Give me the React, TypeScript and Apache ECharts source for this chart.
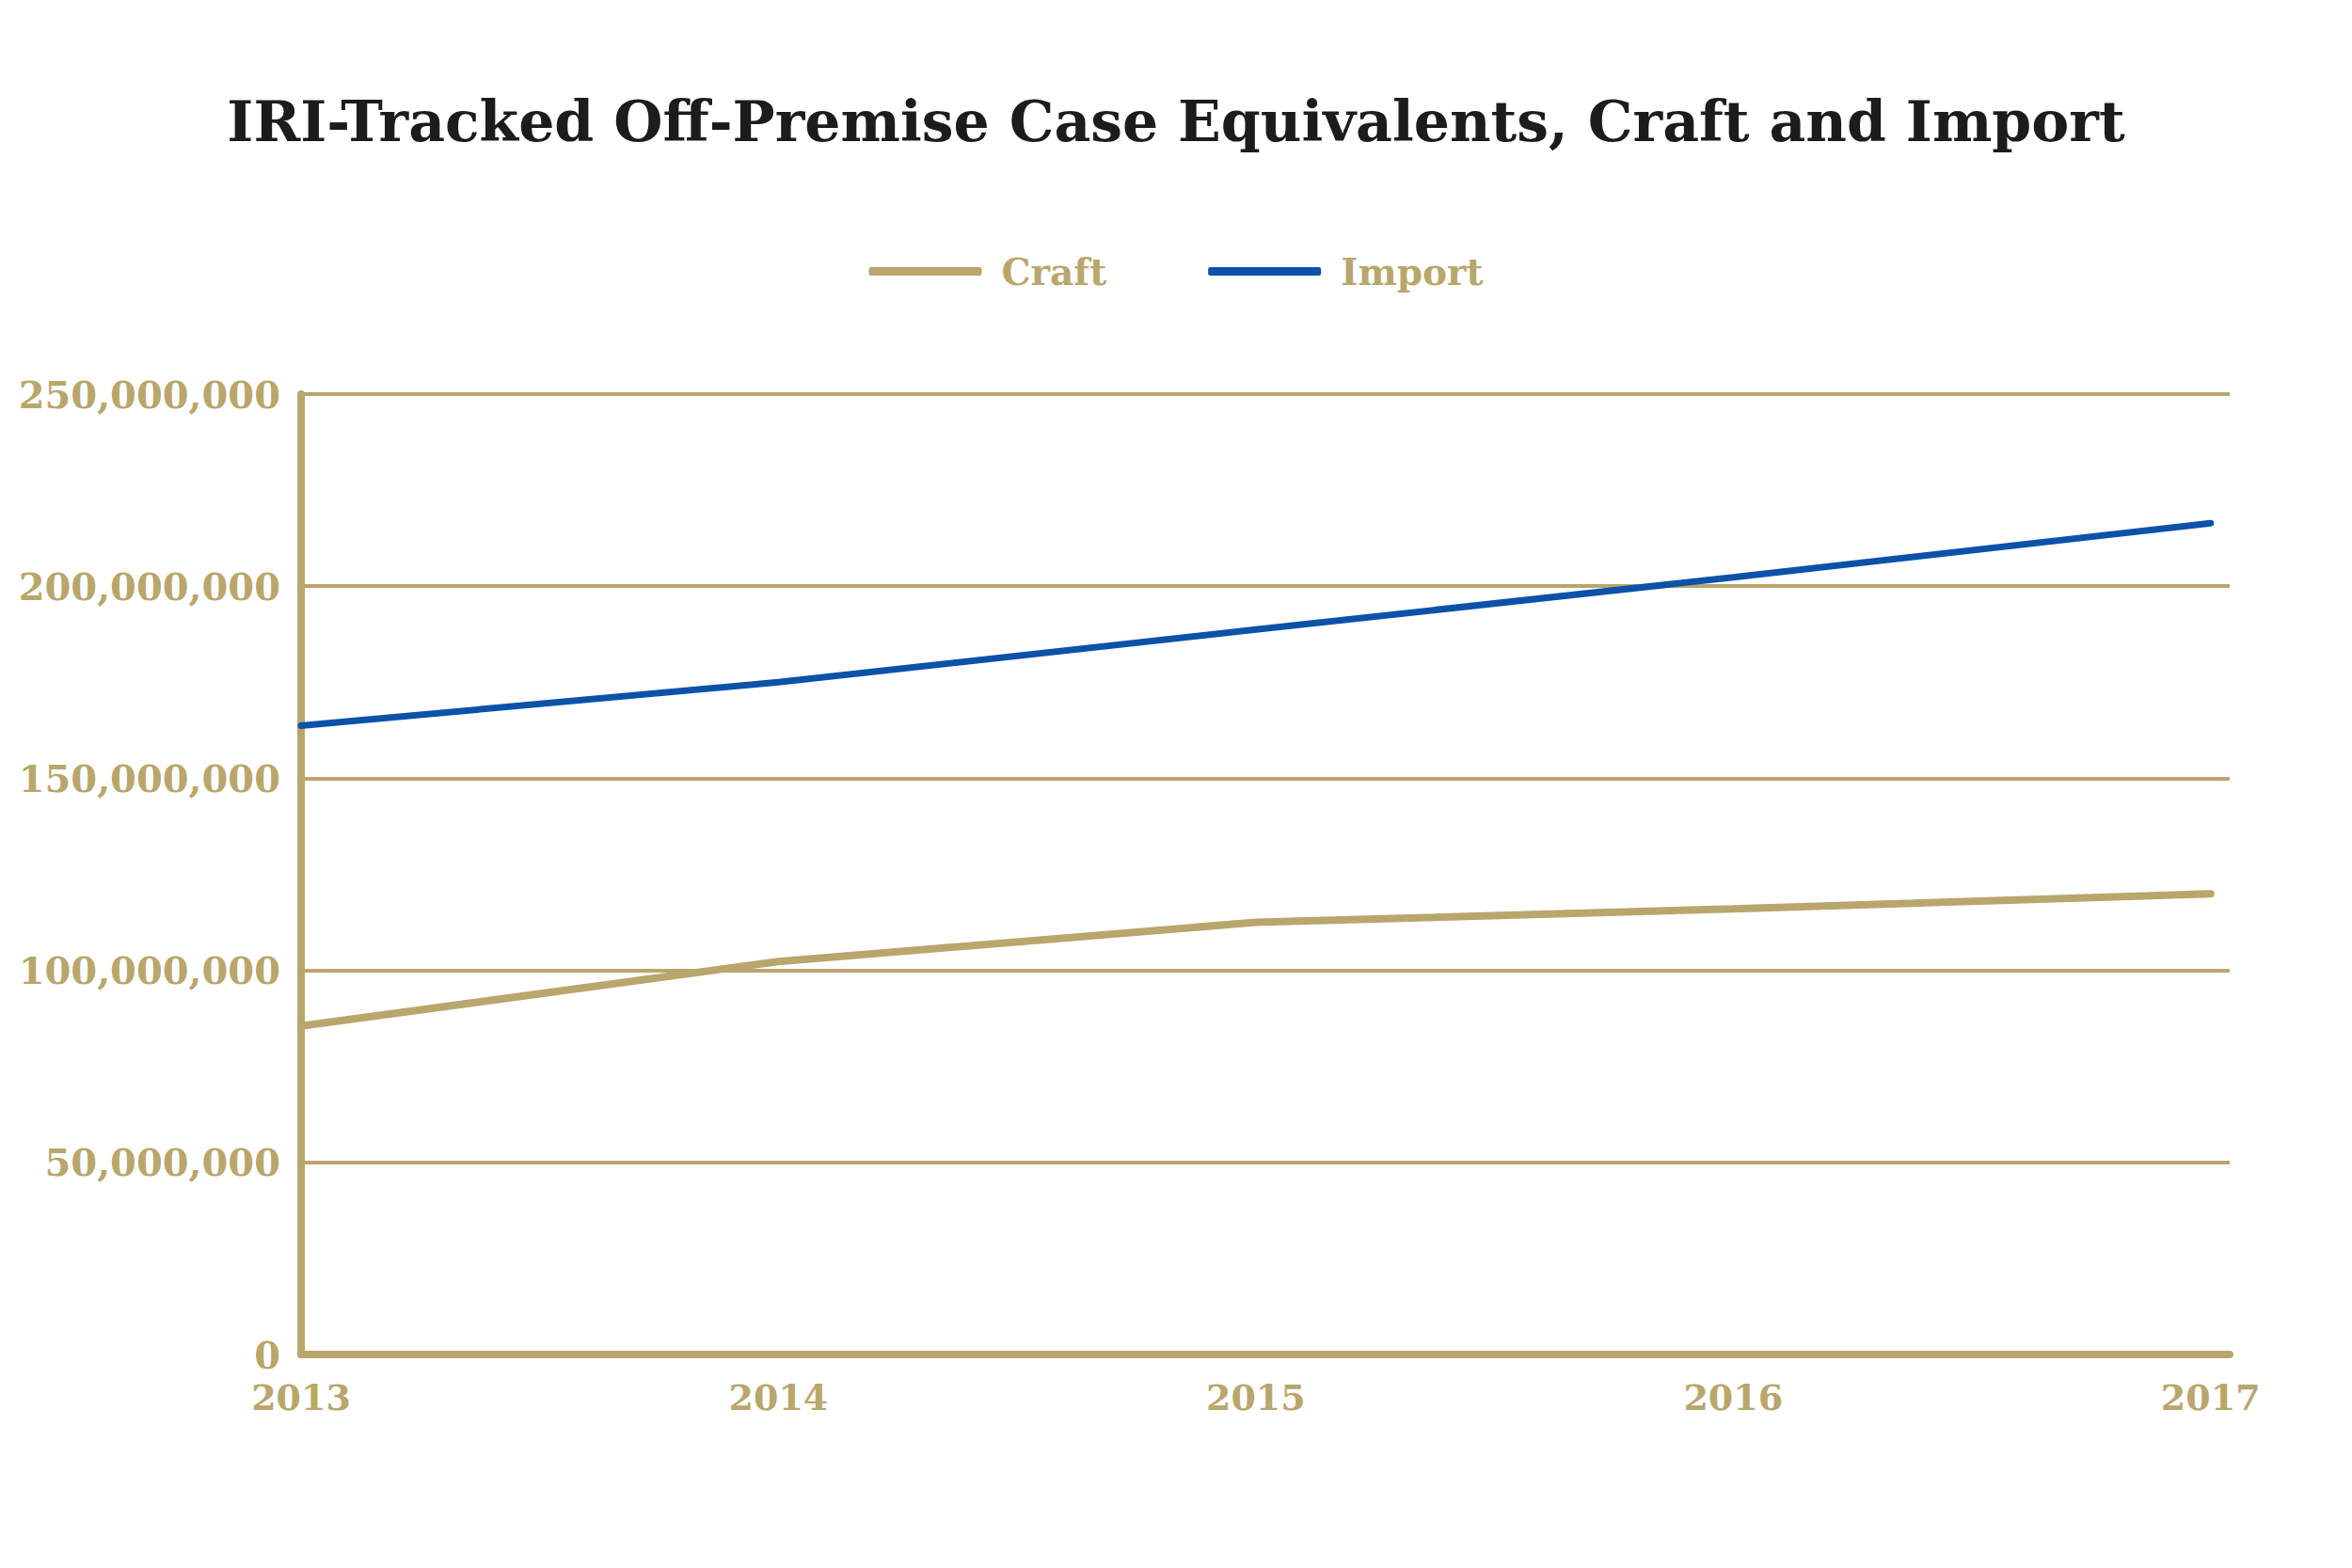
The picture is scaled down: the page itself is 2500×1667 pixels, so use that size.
import React, { useEffect, useRef } from "react";
import * as echarts from "echarts";

const years = [2013, 2014, 2015, 2016, 2017];
const craftValues = [85500000, 102300000, 112500000, 116000000, 119900000];
const importValues = [163700000, 175000000, 188700000, 202300000, 216400000];
const yTicks = [0, 50000000, 100000000, 150000000, 200000000, 250000000];

const TAN = "#b9a66c";
const BLUE = "#0c52a9";
const FONT = "'DejaVu Serif', 'Liberation Serif', serif";

export default function App() {
  const ref = useRef<HTMLDivElement>(null);
  useEffect(() => {
    document.body.style.margin = "0";
    const chart = echarts.init(ref.current!, null, { renderer: "svg" });
    chart.setOption({
      animation: false,
      backgroundColor: "#ffffff",
      title: {
        text: "IRI-Tracked Off-Premise Case Equivalents, Craft and Import",
        left: "center",
        top: 94,
        textStyle: { fontFamily: FONT, fontWeight: "bold", fontSize: 60, color: "#1c1c1c" },
      },
      legend: {
        top: 264,
        left: "center",
        itemWidth: 120,
        itemHeight: 9,
        itemGap: 108,
        icon: "roundRect",
        textStyle: { fontFamily: FONT, fontWeight: "bold", fontSize: 39, color: TAN, padding: [0, 0, 0, 16] },
        data: [
          { name: "Craft", itemStyle: { color: TAN } },
          { name: "Import", itemStyle: { color: BLUE } },
        ],
      },
      grid: { left: 320, right: 130, top: 419, bottom: 227, containLabel: false },
      xAxis: {
        type: "value",
        min: years[0],
        max: years[years.length - 1] + 0.04,
        interval: 1,
        splitLine: { show: false },
        axisTick: { show: false },
        axisLine: { show: true, onZero: false, lineStyle: { color: TAN, width: 8, cap: "round" } },
        axisLabel: {
          margin: 26,
          fontFamily: FONT,
          fontWeight: "bold",
          fontSize: 38,
          color: TAN,
          formatter: (v: number) => (Number.isInteger(v) ? String(v) : ""),
        },
      },
      yAxis: {
        type: "value",
        min: yTicks[0],
        max: yTicks[yTicks.length - 1],
        interval: 50000000,
        axisTick: { show: false },
        axisLine: { show: true, lineStyle: { color: TAN, width: 8, cap: "round" } },
        splitLine: { show: true, lineStyle: { color: TAN, width: 4 } },
        axisLabel: {
          margin: 22,
          fontFamily: FONT,
          fontWeight: "bold",
          fontSize: 40,
          color: TAN,
          formatter: (v: number) => v.toLocaleString("en-US"),
        },
      },
      series: [
        {
          name: "Craft",
          type: "line",
          data: years.map((y, i) => [y, craftValues[i]]),
          showSymbol: false,
          symbol: "none",
          lineStyle: { color: TAN, width: 8, cap: "round" },
          itemStyle: { color: TAN },
        },
        {
          name: "Import",
          type: "line",
          data: years.map((y, i) => [y, importValues[i]]),
          showSymbol: false,
          symbol: "none",
          lineStyle: { color: BLUE, width: 7, cap: "round" },
          itemStyle: { color: BLUE },
        },
      ],
    });
    return () => chart.dispose();
  }, []);
  return <div ref={ref} style={{ width: 2500, height: 1667 }} />;
}
